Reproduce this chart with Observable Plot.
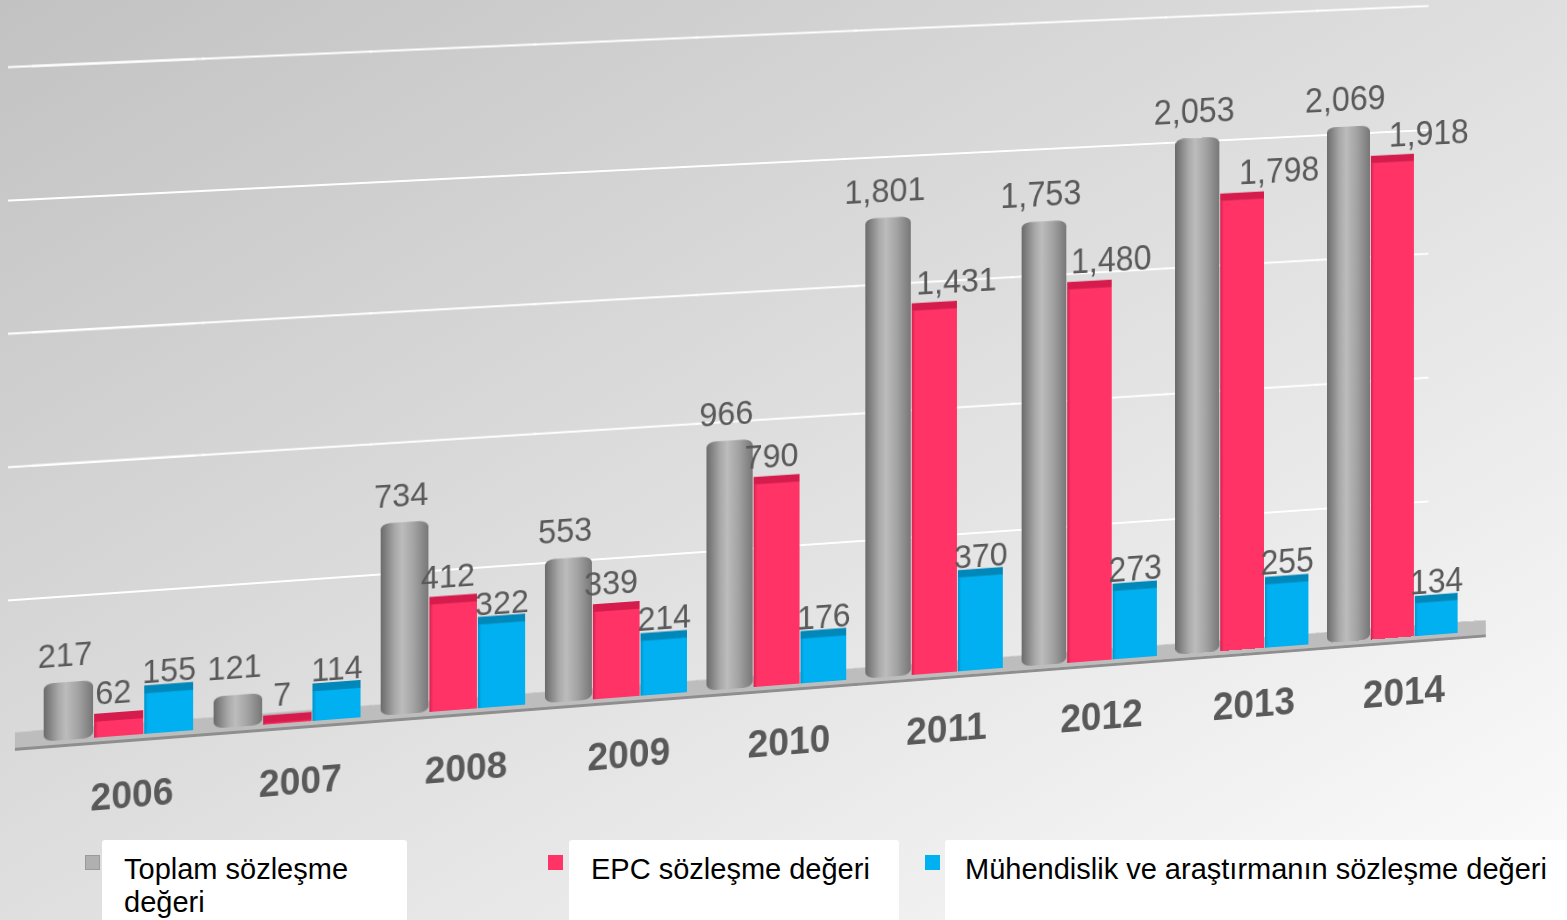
<!DOCTYPE html>
<html>
<head>
<meta charset="utf-8">
<script src="https://cdn.jsdelivr.net/npm/d3@7"></script>
<script src="https://cdn.jsdelivr.net/npm/@observablehq/plot@0.6"></script>
<style>
  html, body { margin: 0; padding: 0; width: 1567px; height: 920px; overflow: hidden;
    font-family: "Liberation Sans", Arial, sans-serif;
    background: linear-gradient(to bottom right, #c2c2c2 0%, #dcdcdc 45%, #fcfcfc 100%); }
  #chart { position: absolute; left: 0; top: 0; width: 1600px; height: 830px; }
  /* 3D view of the flat Plot chart: perspective + slight rotation + skew */
  #chart svg { transform: perspective(2000px) rotateY(5.71deg) skewY(-2.26deg); transform-origin: 0 0; overflow: visible; background: none; }
  .leg-sq { position: absolute; width: 15px; height: 15px; top: 855px; }
  .leg-box { position: absolute; top: 840px; height: 90px; background: #fff; border-radius: 3px;
    font-size: 29px; line-height: 33px; color: #000; box-sizing: border-box; padding: 13px 0 0 22px; }
</style>
</head>
<body>
<svg width="0" height="0" style="position:absolute">
  <defs>
    <linearGradient id="gCyl" x1="0" x2="1" y1="0" y2="0">
      <stop offset="0" stop-color="#6a6a6a"/>
      <stop offset="0.3" stop-color="#a9a9a9"/>
      <stop offset="0.45" stop-color="#bcbcbc"/>
      <stop offset="0.7" stop-color="#a2a2a2"/>
      <stop offset="1" stop-color="#777777"/>
    </linearGradient>
    <linearGradient id="gRed" x1="0" x2="1" y1="0" y2="0">
      <stop offset="0" stop-color="#d6204f"/>
      <stop offset="0.08" stop-color="#ff3366"/>
      <stop offset="1" stop-color="#ff3366"/>
    </linearGradient>
    <linearGradient id="gBlue" x1="0" x2="1" y1="0" y2="0">
      <stop offset="0" stop-color="#0095cc"/>
      <stop offset="0.08" stop-color="#00b0f0"/>
      <stop offset="1" stop-color="#00b0f0"/>
    </linearGradient>
  </defs>
</svg>
<div id="chart"></div>
<div class="leg-sq" style="left:85px;background:#b0b0b0;border:1px solid #9a9a9a;box-sizing:border-box"></div>
<div class="leg-box" style="left:102px;width:305px">Toplam sözleşme<br>değeri</div>
<div class="leg-sq" style="left:548px;background:#ff3366"></div>
<div class="leg-box" style="left:569px;width:330px">EPC sözleşme değeri</div>
<div class="leg-sq" style="left:925px;background:#00b0f0"></div>
<div class="leg-box" style="left:945px;width:640px;padding-left:20px">Mühendislik ve araştırmanın sözleşme değeri</div>
<script>
const years = ["2006", "2007", "2008", "2009", "2010", "2011", "2012", "2013", "2014"];
const seriesNames = ["Toplam sözleşme değeri", "EPC sözleşme değeri", "Mühendislik ve araştırmanın sözleşme değeri"];
const toplam = [217, 121, 734, 553, 966, 1801, 1753, 2053, 2069];
const epc = [62, 7, 412, 339, 790, 1431, 1480, 1798, 1918];
const muhendislik = [155, 114, 322, 214, 176, 370, 273, 255, 134];
const gridValues = [500, 1000, 1500, 2000, 2500];

const seriesValues = [toplam, epc, muhendislik];
const data = [];
years.forEach((y, i) => seriesValues.forEach((vals, s) => data.push({year: y, series: seriesNames[s], value: vals[i]})));
const bySeries = s => data.filter(d => d.series === seriesNames[s]);
const yearIndex = y => years.indexOf(y);
const fmt = d3.format(",");
const firstYear = () => years[0];
const lastYear = () => years[years.length - 1];
// grid rules for every facet except the last (which ends short of the side wall)
const gridData = years.slice(0, -1).flatMap(year => gridValues.map(value => ({year, value})));
// labels stay readable as the view recedes to the right
const labelSize = (base, year) => base * (1 + 0.016 * yearIndex(year));

const gridStyle = {stroke: "#ffffff", strokeWidth: 2, dy: -11};
const floorTop = {stroke: "#bdbdbd", strokeWidth: 16, dy: -4};
const floorEdge = {stroke: "#8e8e8e", strokeWidth: 3, dy: 5};
const labelStyle = {fx: "year", x: "series", y: "value", text: d => fmt(d.value), lineAnchor: "bottom", dy: -17,
  fontSize: d => labelSize(33, d.year), fill: "#595959"};
// EPC labels on the tall right-hand groups sit to the right of the Toplam labels
const epcA = bySeries(1).filter(d => yearIndex(d.year) < 5);
const epcB = bySeries(1).filter(d => yearIndex(d.year) >= 5 && yearIndex(d.year) < 7);
const epcC = bySeries(1).filter(d => yearIndex(d.year) >= 7);

const plot = Plot.plot({
  width: 1600,
  height: 830,
  marginLeft: 39,
  marginRight: 15,
  marginTop: 78,
  marginBottom: 85,
  style: {background: "transparent", fontFamily: "'Liberation Sans', Arial, sans-serif", overflow: "visible"},
  fx: {domain: years, padding: 0.1, axis: null},
  x: {domain: seriesNames, padding: 0.02, axis: null},
  y: {domain: [0, 2500], axis: null},
  marks: [
    // grid lines on the back wall
    Plot.ruleY(gridData, {...gridStyle, fx: "year", y: "value", insetLeft: -10, insetRight: -10}),
    Plot.ruleY(gridValues, {...gridStyle, y: d => d, fx: firstYear, insetLeft: -34}),
    Plot.ruleY(gridValues, {...gridStyle, y: d => d, fx: lastYear, insetLeft: -10, insetRight: 36}),
    // floor slab
    Plot.ruleY([0], {...floorTop, insetLeft: -10, insetRight: -10}),
    Plot.ruleY([0], {...floorTop, y: d => d, fx: firstYear, insetLeft: -27}),
    Plot.ruleY([0], {...floorTop, y: d => d, fx: lastYear, insetRight: -31}),
    Plot.ruleY([0], {...floorEdge, insetLeft: -10, insetRight: -10}),
    Plot.ruleY([0], {...floorEdge, y: d => d, fx: firstYear, insetLeft: -27}),
    Plot.ruleY([0], {...floorEdge, y: d => d, fx: lastYear, insetRight: -31}),
    // bars
    Plot.barY(bySeries(0), {fx: "year", x: "series", y: "value", fill: "url(#gCyl)", rx: 10, ry: 6}),
    Plot.barY(bySeries(1), {fx: "year", x: "series", y: "value", fill: "url(#gRed)"}),
    Plot.tickY(bySeries(1), {fx: "year", x: "series", y: "value", stroke: "#d61c4c", strokeWidth: 8, dy: -4}),
    Plot.barY(bySeries(2), {fx: "year", x: "series", y: "value", fill: "url(#gBlue)"}),
    Plot.tickY(bySeries(2), {fx: "year", x: "series", y: "value", stroke: "#0088bb", strokeWidth: 8, dy: -4}),
    // value labels
    Plot.text(bySeries(0), {...labelStyle, dx: -4}),
    Plot.text(epcA, {...labelStyle, dx: -6}),
    Plot.text(epcB, {...labelStyle, dx: 24}),
    Plot.text(epcC, {...labelStyle, dx: 42}),
    Plot.text(bySeries(2), {...labelStyle, dx: 0, dy: -10}),
    // year labels
    Plot.text(years, {fx: d => d, text: d => d, frameAnchor: "bottom", dy: 72, dx: 13,
      fontSize: d => labelSize(38, d), fontWeight: "bold", fill: "#595959"})
  ]
});
document.getElementById("chart").appendChild(plot);
</script>
</body>
</html>
